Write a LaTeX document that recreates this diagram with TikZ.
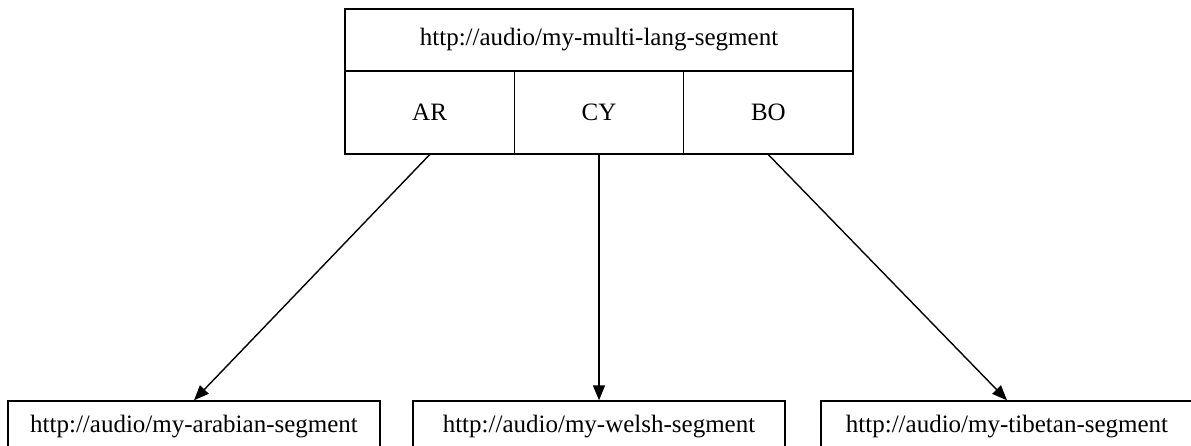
\documentclass[tikz,border=0pt]{standalone}
\usepackage{fontspec}
\setmainfont{Liberation Serif}
\usetikzlibrary{arrows.meta}
\begin{document}
\begin{tikzpicture}[x=1pt,y=-1pt,
  cell/.style={draw=black,line width=1.4pt,inner sep=0pt,font=\fontsize{25}{30}\selectfont},
  leaf/.style={cell,minimum width=372pt,minimum height=52pt},
  arr/.style={line width=1.4pt,-{Triangle[length=15pt,width=12pt]}}]
\useasboundingbox (0,0) rectangle (1191,446);
\node[cell,minimum width=508pt,minimum height=62pt] (head) at (599,40) {http://audio/my-multi-lang-segment};
\node[cell,minimum width=169.3pt,minimum height=83pt] (ar) at (429.6,112.5) {AR};
\node[cell,minimum width=169.3pt,minimum height=83pt] (cy) at (599,112.5) {CY};
\node[cell,minimum width=169.3pt,minimum height=83pt] (bo) at (768.4,112.5) {BO};
\node[leaf] (arabian) at (194,427) {http://audio/my-arabian-segment};
\node[leaf] (welsh) at (599,427) {http://audio/my-welsh-segment};
\node[leaf] (tibetan) at (1007,427) {http://audio/my-tibetan-segment};
\draw[arr] (ar.south) -- (arabian.north);
\draw[arr] (cy.south) -- (welsh.north);
\draw[arr] (bo.south) -- (tibetan.north);
\end{tikzpicture}
\end{document}
